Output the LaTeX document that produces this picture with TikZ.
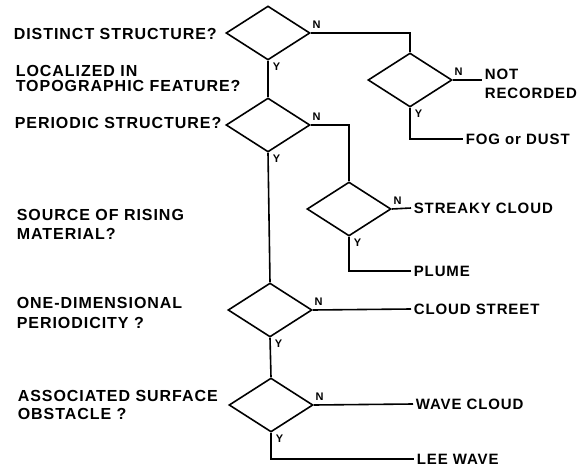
\documentclass[tikz,border=0pt]{standalone}
\usepackage{fontspec}
\newfontfamily\letterfont{Liberation Sans}[LetterSpace=6]
\usetikzlibrary{shapes.geometric,positioning}

\begin{document}
\begin{tikzpicture}[x=1pt,y=-1pt,line width=1.6pt,
	dec/.style={draw,diamond,minimum width=84pt,minimum height=54pt,inner sep=0pt},
	qtext/.style={anchor=north west,inner sep=0pt,align=left,font=\letterfont\bfseries\fontsize{16}{19}\selectfont},
	ans/.style={anchor=west,inner sep=2pt,align=left,font=\letterfont\bfseries\fontsize{15}{19}\selectfont},
	yn/.style={inner sep=1pt,font=\letterfont\bfseries\fontsize{11}{11}\selectfont}]
			\useasboundingbox (0,0) rectangle (581,468);
			
			% questions
			\node[qtext] (q1) at (13,28) {DISTINCT STRUCTURE?};
			\node[qtext] (q2) at (15,65) {LOCALIZED IN\\[-4.5pt]TOPOGRAPHIC FEATURE?};
			\node[qtext] (q3) at (14,117) {PERIODIC STRUCTURE?};
			\node[qtext] (q4) at (16,209) {SOURCE OF RISING\\MATERIAL?};
			\node[qtext] (q5) at (16,297) {ONE-DIMENSIONAL\\[1pt]PERIODICITY ?};
			\node[qtext] (q6) at (17,390) {ASSOCIATED SURFACE\\[-1.5pt]OBSTACLE ?};
			
			% decisions
			\node[dec] (d1) at (268,33) {};
			\node[dec] (d2) at (410,80) {};
			\node[dec] (d3) at (268,125) {};
			\node[dec] (d4) at (349,209) {};
			\node[dec] (d5) at (270,310) {};
			\node[dec] (d6) at (271,405) {};
			
			% answers
			\node[ans,anchor=north west] (notrec) at (482,66) {NOT\\RECORDED};
			\node[ans] (fog) at (463,139) {FOG or DUST};
			\node[ans] (streaky) at (411,208) {STREAKY CLOUD};
			\node[ans] (plume) at (411,271) {PLUME};
			\node[ans] (street) at (411,309) {CLOUD STREET};
			\node[ans] (wave) at (413,404) {WAVE CLOUD};
			\node[ans] (lee) at (414,459) {LEE WAVE};
			
			% connectors
			\draw (d1.east) -| (d2.north);
			\draw (d2.east) -- (d2.east -| notrec.west);
			\draw (d2.south) |- (fog.west);
			\draw (d1.south) -- (d3.north);
			\draw (d3.east) -| (d4.north);
			\draw (d4.east) -- (streaky.west);
			\draw (d4.south) |- (plume.west);
			\draw (d3.south) -- (d5.north);
			\draw (d5.east) -- (street.west);
			\draw (d5.south) -- (d6.north);
			\draw (d6.east) -- (wave.west);
			\draw (d6.south) |- (lee.west);
			
			% Y and N
			\node[yn,above right=3pt and 0pt of d1.east] {N};
			\node[yn,below right=0pt and 3pt of d1.south] {Y};
			\node[yn,above right=3pt and 0pt of d2.east] {N};
			\node[yn,below right=0pt and 3pt of d2.south] {Y};
			\node[yn,above right=3pt and 0pt of d3.east] {N};
			\node[yn,below right=0pt and 3pt of d3.south] {Y};
			\node[yn,above right=3pt and 0pt of d4.east] {N};
			\node[yn,below right=0pt and 3pt of d4.south] {Y};
			\node[yn,above right=3pt and 0pt of d5.east] {N};
			\node[yn,below right=0pt and 3pt of d5.south] {Y};
			\node[yn,above right=3pt and 0pt of d6.east] {N};
			\node[yn,below right=0pt and 3pt of d6.south] {Y};
\end{tikzpicture}
\end{document}
